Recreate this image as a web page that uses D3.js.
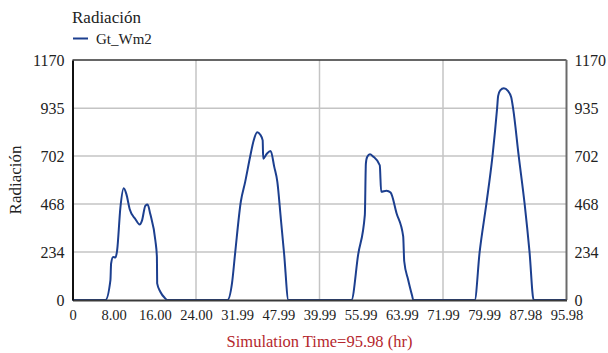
<!DOCTYPE html>
<html>
<head>
<meta charset="utf-8">
<script src="https://cdn.jsdelivr.net/npm/d3@7"></script>
<style>
  html, body { margin: 0; padding: 0; background: #fff; }
  svg { display: block; }
  svg text { font-family: "Liberation Serif", "DejaVu Serif", serif; }
</style>
</head>
<body>
<svg id="chart" width="608" height="353"></svg>
<script>
// Hourly global radiation (W/m2) over four days of simulation
const timeHours = [
  0, 6.4, 7.37, 7.5, 7.9, 8.34, 8.67, 9.31, 9.95, 10.47, 11.1, 12.2, 13.05, 13.5, 14.16, 14.6, 15.1, 16.1, 16.4, 16.45, 17.06, 18.0, 18.4,
  30.1, 31.0, 31.6, 32.7, 33.55, 34.5, 35.2, 35.9, 36.45, 36.95, 37.05, 37.75, 38.5, 39.2, 39.8, 40.5, 41.1, 41.95,
  54.2, 55.5, 56.8, 57.0, 57.25, 57.8, 58.4, 59.7, 59.97, 61.0, 61.8, 62.96, 64.25, 64.45, 65.2, 66.0, 66.2,
  78.15, 79.1, 80.4, 81.6, 82.5, 82.7, 83.1, 83.8, 84.6, 85.25, 85.6, 86.7, 87.85, 88.8, 89.6, 95.98
];
const radiation = [
  0, 0, 97, 178, 210, 207, 242, 452, 545, 516, 444, 395, 368, 387, 460, 465, 420, 290, 210, 81, 40, 8, 0,
  0, 84, 229, 479, 576, 697, 778, 818, 807, 778, 689, 713, 726, 649, 576, 390, 229, 0,
  0, 221, 415, 665, 697, 710, 700, 657, 528, 533, 524, 423, 310, 189, 100, 19, 0,
  0, 233, 467, 701, 935, 995, 1022, 1032, 1019, 987, 935, 701, 467, 233, 0, 0
];
const xTickLabels = ["0", "8.00", "16.00", "24.00", "31.99", "47.99", "39.99", "55.99", "63.99", "71.99", "79.99", "87.98", "95.98"];
const yTickValues = [0, 234, 468, 702, 935, 1170];
const xMax = 95.98;
const yMax = 1170;

const svg = d3.select("#chart");
const mLeft = 72.5, mRight = 566.5, mTop = 60, mBottom = 300;
const serif = "'Liberation Serif', 'DejaVu Serif', serif";

const x = d3.scaleLinear().domain([0, xMax]).range([mLeft, mRight]);
const y = d3.scaleLinear().domain([0, yMax]).range([mBottom, mTop]);
const xTicks = xTickLabels.map((_, i) => i * xMax / (xTickLabels.length - 1));

// horizontal grid
svg.append("g")
  .selectAll("line")
  .data(yTickValues.filter(v => v > 0 && v < yMax))
  .join("line")
  .attr("x1", mLeft).attr("x2", mRight)
  .attr("y1", d => y(d)).attr("y2", d => y(d))
  .attr("stroke", "#c4c4c4").attr("stroke-width", 1.5);

// vertical grid every third tick
svg.append("g")
  .selectAll("line")
  .data(xTicks.filter((d, i) => i % 3 === 0 && i > 0 && i < xTicks.length - 1))
  .join("line")
  .attr("x1", d => x(d)).attr("x2", d => x(d))
  .attr("y1", mTop).attr("y2", mBottom)
  .attr("stroke", "#c4c4c4").attr("stroke-width", 1.5);

// radiation series
const points = timeHours.map((t, i) => [t, radiation[i]]);
svg.append("path")
  .datum(points)
  .attr("fill", "none")
  .attr("stroke", "#1c3f8f")
  .attr("stroke-width", 2)
  .attr("stroke-linejoin", "round")
  .attr("d", d3.line().x(d => x(d[0])).y(d => y(d[1])).curve(d3.curveMonotoneX));

// frame
svg.append("line").attr("x1", mLeft).attr("x2", mRight).attr("y1", mTop).attr("y2", mTop)
  .attr("stroke", "#333").attr("stroke-width", 1.5);
svg.append("line").attr("x1", mRight).attr("x2", mRight).attr("y1", mTop).attr("y2", mBottom)
  .attr("stroke", "#6a6a6a").attr("stroke-width", 2);

// axes
function styleTicks(g, size) {
  g.attr("font-family", serif);
  g.selectAll("text")
    .style("font-family", serif)
    .style("font-size", size + "px")
    .attr("fill", "#222");
}

const xAxis = d3.axisBottom(x).tickValues(xTicks).tickSize(0).tickPadding(10)
  .tickFormat((d, i) => xTickLabels[i]);
const gx = svg.append("g").attr("transform", `translate(0,${mBottom})`).call(xAxis);
gx.select(".domain").attr("stroke", "#3a3a3a").attr("stroke-width", 2);
styleTicks(gx, 14.5);

const yAxisL = d3.axisLeft(y).tickValues(yTickValues).tickSize(0).tickPadding(8)
  .tickFormat(d3.format("d"));
const gyl = svg.append("g").attr("transform", `translate(${mLeft},0)`).call(yAxisL);
gyl.select(".domain").attr("stroke", "#111").attr("stroke-width", 2);
styleTicks(gyl, 16);

const yAxisR = d3.axisRight(y).tickValues(yTickValues).tickSize(0).tickPadding(8)
  .tickFormat(d3.format("d"));
const gyr = svg.append("g").attr("transform", `translate(${mRight},0)`).call(yAxisR);
gyr.select(".domain").remove();
styleTicks(gyr, 16);

// titles
svg.append("text").attr("x", 72).attr("y", 23)
  .attr("font-size", 17).attr("fill", "#222").text("Radiación");
svg.append("line").attr("x1", 73).attr("x2", 88).attr("y1", 38.5).attr("y2", 38.5)
  .attr("stroke", "#1c3f8f").attr("stroke-width", 2);
svg.append("text").attr("x", 96).attr("y", 43.5)
  .attr("font-size", 15).attr("fill", "#222").text("Gt_Wm2");

svg.append("text")
  .attr("transform", `translate(21,${(mTop + mBottom) / 2}) rotate(-90)`)
  .attr("text-anchor", "middle")
  .attr("font-size", 17).attr("fill", "#222").text("Radiación");

svg.append("text").attr("x", (mLeft + mRight) / 2).attr("y", 347)
  .attr("text-anchor", "middle")
  .attr("font-size", 16.5).attr("fill", "#b5272d").text("Simulation Time=95.98 (hr)");
</script>
</body>
</html>
